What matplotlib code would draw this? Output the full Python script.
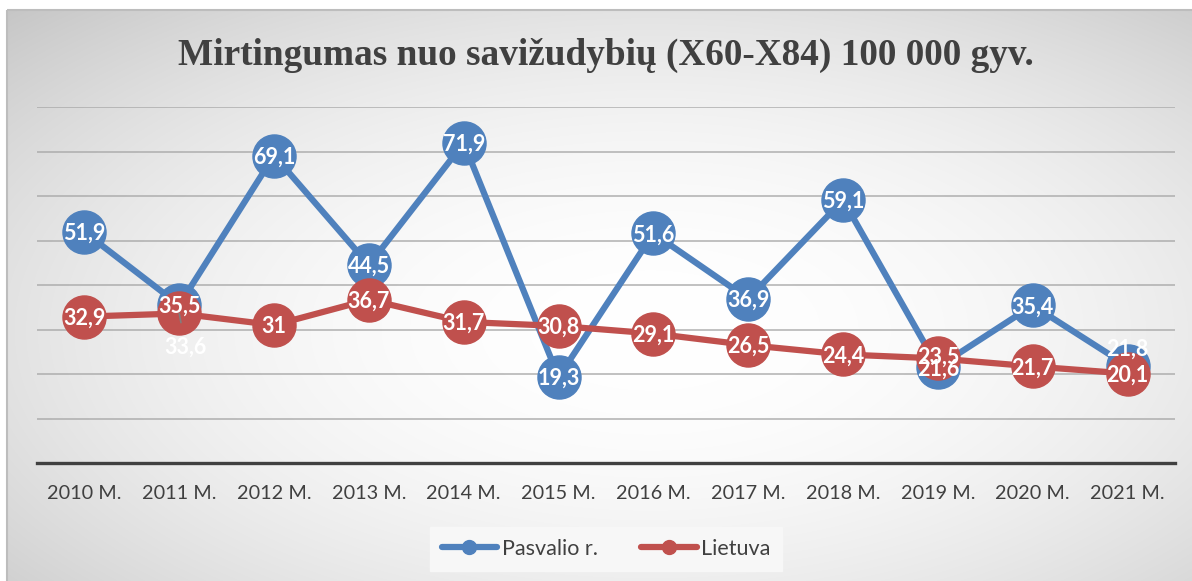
import numpy as np
import matplotlib
matplotlib.use("Agg")
import matplotlib.pyplot as plt
from matplotlib.lines import Line2D
from matplotlib.patches import Rectangle

# ---- data ----
categories = ["2010 M.", "2011 M.", "2012 M.", "2013 M.", "2014 M.", "2015 M.",
              "2016 M.", "2017 M.", "2018 M.", "2019 M.", "2020 M.", "2021 M."]
pasvalio = [51.9, 35.5, 69.1, 44.5, 71.9, 19.3, 51.6, 36.9, 59.1, 21.6, 35.4, 21.8]
lietuva = [32.9, 33.6, 31.0, 36.7, 31.7, 30.8, 29.1, 26.5, 24.4, 23.5, 21.7, 20.1]
series_names = ["Pasvalio r.", "Lietuva"]
title = "Mirtingumas nuo savižudybių (X60-X84) 100 000 gyv."

W, H = 1192, 581
DPI = 100
BLUE = "#4f81bd"
RED = "#c0504d"
TXT = "#404040"

plt.rcParams['font.family'] = ['Lato', 'DejaVu Sans']

fig = plt.figure(figsize=(W / DPI, H / DPI), dpi=DPI)
fig.patch.set_facecolor("white")

# ---- background gradient (chart area) ----
bg = fig.add_axes([0, 0, 1, 1], zorder=0)
yy, xx = np.mgrid[0:H, 0:W]
cx, cy, rx, ry = 650.0, 330.0, 600.0, 300.0
r2 = ((xx - cx) / rx) ** 2 + ((yy - cy) / ry) ** 2
val = np.clip(1 - 0.0978 * r2, 0.76, 1.0)
x0c, y0c = 7, 10
val[:y0c, :] = 1.0
val[:, :x0c] = 1.0
img = np.dstack([val, val, val])
bg.imshow(img, extent=(0, W, H, 0), aspect="auto", interpolation="bilinear")
bg.add_patch(Rectangle((x0c, y0c), W - x0c + 5, H - y0c + 5, fill=False,
                       edgecolor="#bdbdbd", linewidth=1.5))
bg.set_xlim(0, W)
bg.set_ylim(H, 0)
bg.axis("off")

# ---- main axes ----
left, right, top, bottom = 37, 1175, 107, 463
ax = fig.add_axes([left / W, 1 - bottom / H, (right - left) / W, (bottom - top) / H], zorder=1)
ax.patch.set_alpha(0)
x = np.arange(len(categories))
ax.set_xlim(-0.5, len(categories) - 0.5)
ax.set_ylim(0, 80)
ax.set_yticks(np.arange(0, 81, 10))
ax.yaxis.grid(True, color="#a6a6a6", linewidth=1.3, alpha=0.75)
ax.set_axisbelow(True)
for s in ["top", "right", "left"]:
    ax.spines[s].set_visible(False)
ax.spines["bottom"].set_color(TXT)
ax.spines["bottom"].set_linewidth(2.4)
ax.spines["bottom"].set_zorder(1)
ax.tick_params(axis="y", left=False, labelleft=False)
ax.set_xticks(x)
ax.set_xticklabels(categories, fontsize=14.3, color=TXT)
ax.tick_params(axis="x", length=0, pad=16)

ax.plot(x, pasvalio, color=BLUE, linewidth=4.5, marker="o", markersize=31,
        markerfacecolor=BLUE, markeredgecolor=BLUE, zorder=3, solid_capstyle="round")
ax.plot(x, lietuva, color=RED, linewidth=4.5, marker="o", markersize=31,
        markerfacecolor=RED, markeredgecolor=RED, zorder=4, solid_capstyle="round")

def fmt(v):
    s = ("%.1f" % v).rstrip("0").rstrip(".")
    return s.replace(".", ",")

lab_kw = dict(color="white", fontsize=15.5, fontweight="bold", ha="center",
              va="center", zorder=6, family=['Lato', 'DejaVu Sans'])
for i, v in enumerate(pasvalio):
    if i == 11:
        ax.annotate(fmt(v), (i, v), xytext=(0, 12), textcoords="offset points", **lab_kw)
    elif i == 9:
        ax.annotate(fmt(v), (i, v), xytext=(0, -2), textcoords="offset points", **lab_kw)
    else:
        ax.annotate(fmt(v), (i, v), xytext=(0, -1), textcoords="offset points", **lab_kw)
for i, v in enumerate(lietuva):
    if i == 1:
        ax.annotate(fmt(v), (i, v), xytext=(4.5, -24), textcoords="offset points",
                    arrowprops=dict(arrowstyle="-", color="#7f7f7f", lw=1.2,
                                    shrinkA=8, shrinkB=0), **lab_kw)
    elif i == 9:
        ax.annotate(fmt(v), (i, v), xytext=(0, 1), textcoords="offset points", **lab_kw)
    else:
        ax.annotate(fmt(v), (i, v), xytext=(0, -1), textcoords="offset points", **lab_kw)

# ---- title ----
fig.text(606 / W, 1 - 55 / H, title, ha="center", va="center", fontsize=26.8,
         fontweight="bold", color=TXT, family=["Liberation Serif", "DejaVu Serif"])

# ---- legend ----
handles = [Line2D([0], [0], color=BLUE, lw=4.5, marker="o", markersize=10,
                  solid_capstyle="round"),
           Line2D([0], [0], color=RED, lw=4.5, marker="o", markersize=10,
                  solid_capstyle="round")]
leg = fig.legend(handles, series_names, loc="center", ncol=2,
                 bbox_to_anchor=(606 / W, 1 - 549 / H), frameon=True,
                 fancybox=False, facecolor="#f7f7f7", edgecolor="#f7f7f7",
                 framealpha=1.0, fontsize=15.5, handlelength=2.6,
                 columnspacing=2.0, handletextpad=0.2, borderpad=0.55,
                 labelcolor=TXT)

fig.savefig("out.png", dpi=DPI)
